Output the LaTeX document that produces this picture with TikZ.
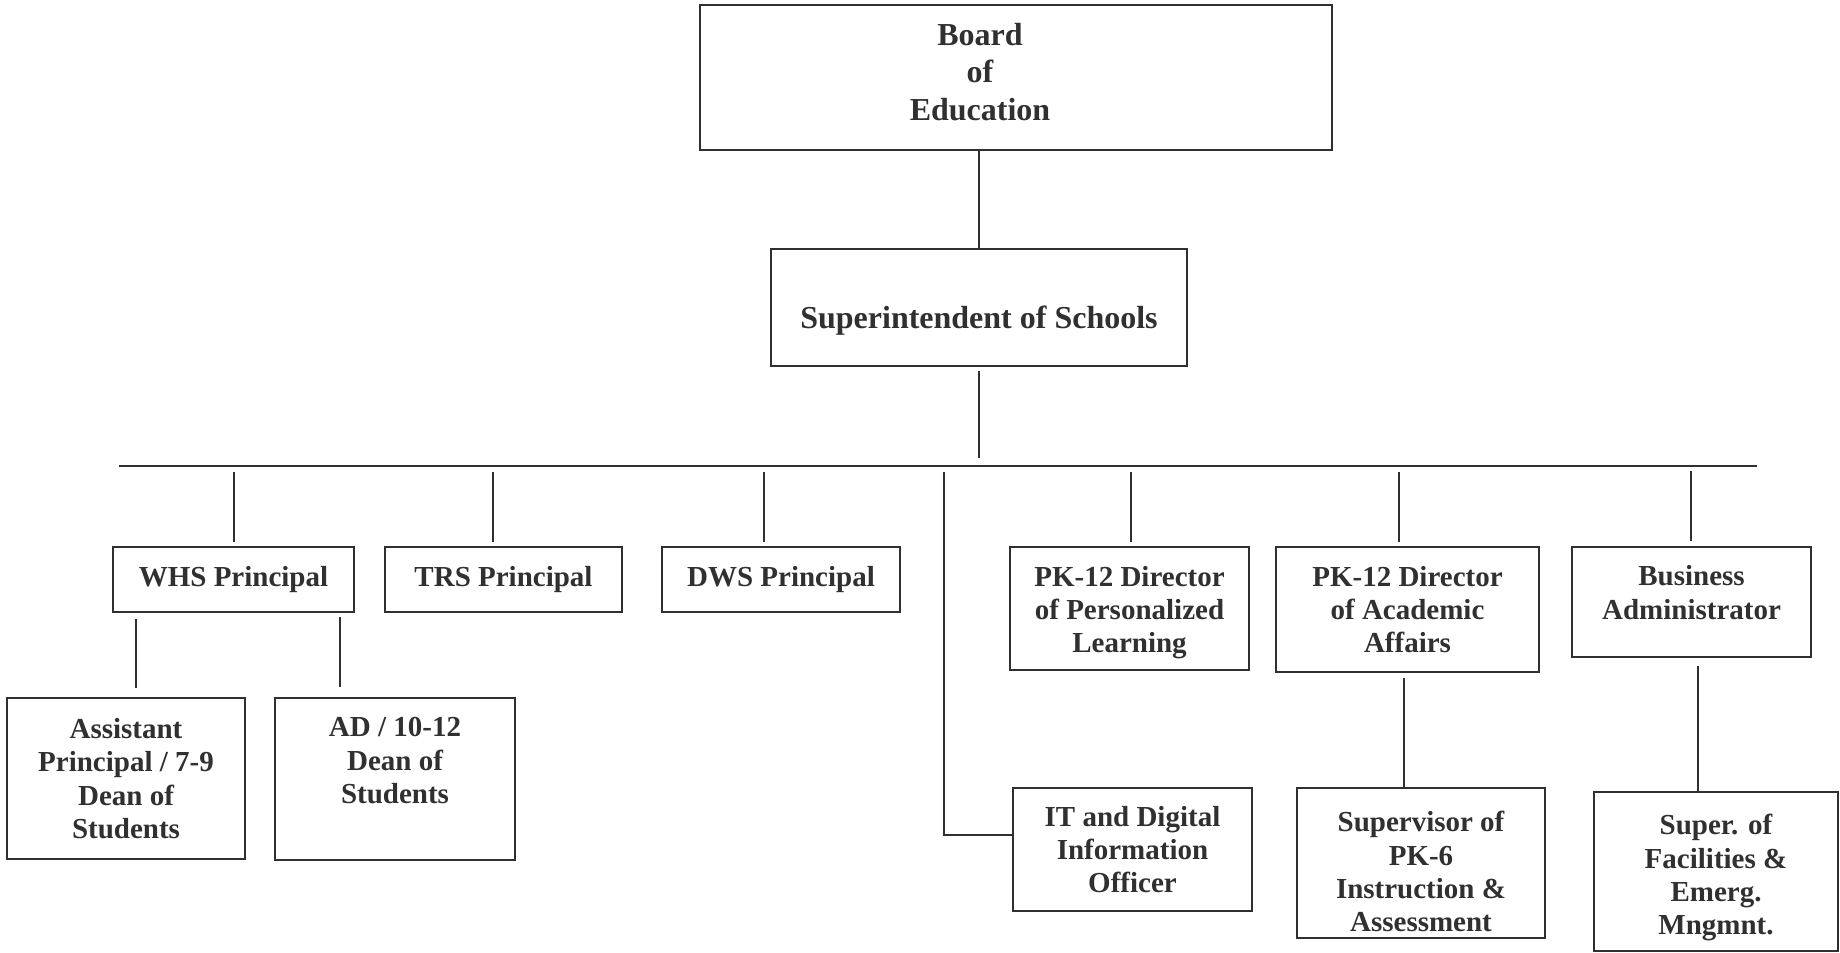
\documentclass[tikz,border=0pt]{standalone}
\usepackage{fontspec}
\setmainfont{Liberation Serif}
\definecolor{ink}{RGB}{48,48,48}
\begin{document}
\begin{tikzpicture}[x=1pt,y=-1pt,
  box/.style={draw=ink, line width=2.3pt, inner sep=0pt, align=center, text=ink,
    font=\bfseries\fontsize{29}{33.3}\selectfont},
  bigtext/.style={font=\bfseries\fontsize{32}{37.5}\selectfont},
  conn/.style={draw=ink, line width=2.2pt},
]
\useasboundingbox (0,0) rectangle (1840,953);

% boxes
\node[box, minimum width=632pt, minimum height=145pt] (board) at (1016,77.5) {};
\node[text=ink, align=center, inner sep=0pt, bigtext] (boardtxt) at (980,72) {Board\\of\\Education};
\node[box, bigtext, minimum width=416pt, minimum height=117pt] (supt) at (979,307.5) {\rule[-7pt]{0pt}{55pt}Superintendent of Schools};

\node[box, minimum width=241pt, minimum height=65pt] (whs) at (233.5,579.5) {WHS Principal};
\node[box, minimum width=237pt, minimum height=65pt] (trs) at (503.5,579.5) {TRS Principal};
\node[box, minimum width=238pt, minimum height=65pt] (dws) at (781,579.5) {DWS Principal};
\node[box, minimum width=239pt, minimum height=123pt] (pers) at (1129.5,608.5) {\rule{0pt}{28pt}PK-12 Director\\of Personalized\\Learning};
\node[box, minimum width=263pt, minimum height=125pt] (acad) at (1407.5,609.5) {PK-12 Director\\of Academic\\Affairs};
\node[box, minimum width=239pt, minimum height=110pt] (busadm) at (1691.5,602) {Business\\Administrator\rule[-19pt]{0pt}{0pt}};

\node[box, minimum width=238pt, minimum height=161pt] (asst) at (126,778.5) {Assistant\\Principal / 7-9\\Dean of\\Students};
\node[box, minimum width=240pt, minimum height=162pt] (ad) at (395,779) {AD / 10-12\\Dean of\\Students\rule[-37pt]{0pt}{0pt}};
\node[box, minimum width=239pt, minimum height=123pt] (it) at (1132.5,849.5) {IT and Digital\\Information\\Officer};
\node[box, minimum width=248pt, minimum height=150pt] (sup6) at (1421,863) {\rule{0pt}{38pt}Supervisor of\\PK-6\\Instruction \&\\Assessment};
\node[box, minimum width=244pt, minimum height=159pt] (fac) at (1716,871.5) {\rule{0pt}{33pt}Super. of\\Facilities \&\\Emerg.\\Mngmnt.};

% helper coordinates
\coordinate (busL) at (119,466);
\coordinate (busR) at (1757,466);
\coordinate (xWHS) at (234,0);
\coordinate (xTRS) at (493,0);
\coordinate (xDWS) at (764,0);
\coordinate (xIT) at (944,0);
\coordinate (xPERS) at (1131,0);
\coordinate (xACAD) at (1399,0);
\coordinate (xBUS) at (1691,0);
\coordinate (xA) at (136,0);
\coordinate (xAD) at (340,0);
\coordinate (xS6) at (1404,0);
\coordinate (xFAC) at (1698,0);
\coordinate (itIn) at ([yshift=14.5pt]it.west);

% connectors
\draw[conn] (supt.north |- board.south) -- (supt.north);
\draw[conn, shorten <=4pt, shorten >=8pt] (supt.south) -- (supt.south |- busL);
\draw[conn] (busL) -- (busR);

\draw[conn, shorten <=6pt, shorten >=4pt] (xWHS |- busL) -- (xWHS |- whs.north);
\draw[conn, shorten <=6pt, shorten >=4pt] (xTRS |- busL) -- (xTRS |- trs.north);
\draw[conn, shorten <=6pt, shorten >=4pt] (xDWS |- busL) -- (xDWS |- dws.north);
\draw[conn, shorten <=6pt, shorten >=4pt] (xPERS |- busL) -- (xPERS |- pers.north);
\draw[conn, shorten <=6pt, shorten >=4pt] (xACAD |- busL) -- (xACAD |- acad.north);
\draw[conn, shorten <=5pt, shorten >=5pt] (xBUS |- busL) -- (xBUS |- busadm.north);
\draw[conn, shorten <=6pt] (xIT |- busL) -- (xIT |- itIn) -- (itIn);

\draw[conn, shorten <=6pt, shorten >=9pt] (xA |- whs.south) -- (xA |- asst.north);
\draw[conn, shorten <=4pt, shorten >=10pt] (xAD |- whs.south) -- (xAD |- ad.north);
\draw[conn, shorten <=5pt] (xS6 |- acad.south) -- (xS6 |- sup6.north);
\draw[conn, shorten <=8pt] (xFAC |- busadm.south) -- (xFAC |- fac.north);
\end{tikzpicture}
\end{document}
